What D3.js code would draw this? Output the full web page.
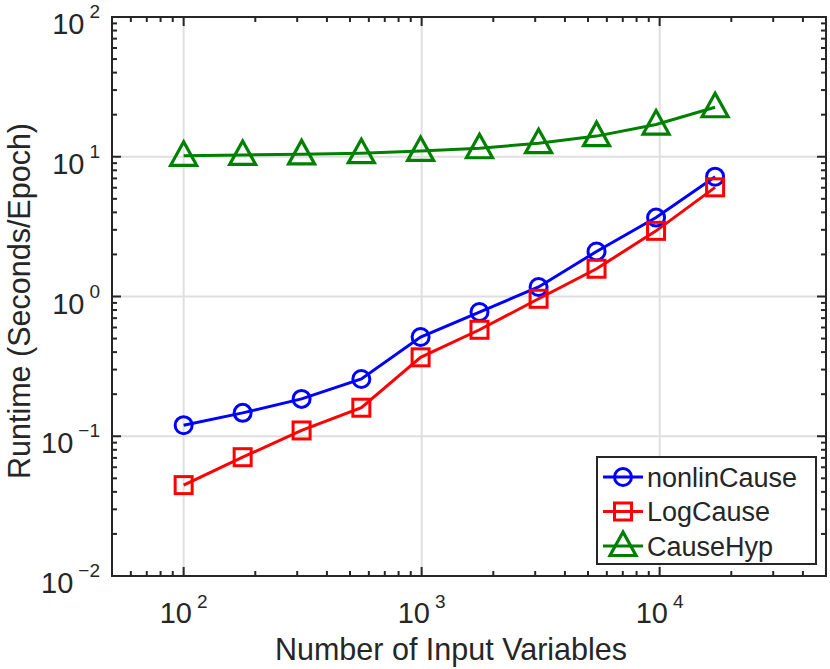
<!DOCTYPE html>
<html>
<head>
<meta charset="utf-8">
<script src="https://cdn.jsdelivr.net/npm/d3@7"></script>
<style>
  body { margin: 0; background: #fff; }
  text { font-family: "Liberation Sans", Arial, Helvetica, sans-serif; fill: #262626; }
</style>
</head>
<body>
<div id="chart"></div>
<script>
/* Number of input variables (x) and runtime per epoch for each method. */
const inputVars = [100, 177, 313, 558, 990, 1750, 3100, 5430, 9660, 17100];
const nonlinCause = [0.120, 0.147, 0.185, 0.257, 0.513, 0.774, 1.17, 2.10, 3.67, 7.20];
const logCause = [0.0447, 0.0708, 0.110, 0.160, 0.367, 0.578, 0.963, 1.58, 2.95, 6.04];
const causeHyp = [10.15, 10.3, 10.4, 10.6, 11.0, 11.5, 12.5, 14.05, 17.0, 22.6];

const seriesNames = ["nonlinCause", "LogCause", "CauseHyp"];
const seriesColors = ["#0000ff", "#ff0000", "#008000"];
const seriesMarkers = ["circle", "square", "triangle"];

const xTicks = [100, 1000, 10000];
const xTickExp = ["2", "3", "4"];
const yTicks = [0.01, 0.1, 1, 10, 100];
const yTickExp = ["\u22122", "\u22121", "0", "1", "2"];

/* Global chart parameters. */
const chartParams = {
  width: 830,
  height: 669,
  left: 112,
  right: 826,
  top: 17,
  bottom: 576
};
const axisColor = "#262626";

const x = d3.scaleLog().domain([50, 50000]).range([chartParams.left, chartParams.right]);
const y = d3.scaleLog().domain([0.01, 100]).range([chartParams.bottom, chartParams.top]);

const svg = d3.select("#chart")
  .append("svg")
  .attr("width", chartParams.width)
  .attr("height", chartParams.height);

/* Minor ticks for the log axes. */
function minorTicks(scale) {
  const [a, b] = scale.domain();
  const out = [];
  for (let e = Math.floor(Math.log10(a)); e <= Math.ceil(Math.log10(b)); e++) {
    for (let m = 2; m <= 9; m++) {
      const v = m * Math.pow(10, e);
      if (v > a && v < b) out.push(v);
    }
  }
  return out;
}

/* Grid lines at major ticks. */
const grid = svg.append("g");
grid.selectAll("line.gx")
  .data(xTicks)
  .enter()
  .append("line")
  .attr("x1", d => x(d)).attr("x2", d => x(d))
  .attr("y1", chartParams.top).attr("y2", chartParams.bottom)
  .attr("stroke", "#dfdfdf").attr("stroke-width", 2);
grid.selectAll("line.gy")
  .data(yTicks.slice(1, -1))
  .enter()
  .append("line")
  .attr("y1", d => y(d)).attr("y2", d => y(d))
  .attr("x1", chartParams.left).attr("x2", chartParams.right)
  .attr("stroke", "#dfdfdf").attr("stroke-width", 2);

/* Axes on all four sides, ticks pointing inward. */
const axes = svg.append("g").attr("stroke", axisColor).attr("stroke-width", 2);
[["bottom", chartParams.bottom, -1], ["top", chartParams.top, 1]].forEach(([side, pos, dir]) => {
  axes.selectAll("line.mx" + side)
    .data(xTicks.map(d => [d, 9]).concat(minorTicks(x).map(d => [d, 5])))
    .enter()
    .append("line")
    .attr("x1", d => x(d[0])).attr("x2", d => x(d[0]))
    .attr("y1", pos).attr("y2", d => pos + dir * d[1]);
});
[["left", chartParams.left, 1], ["right", chartParams.right, -1]].forEach(([side, pos, dir]) => {
  axes.selectAll("line.my" + side)
    .data(yTicks.map(d => [d, 9]).concat(minorTicks(y).map(d => [d, 5])))
    .enter()
    .append("line")
    .attr("y1", d => y(d[0])).attr("y2", d => y(d[0]))
    .attr("x1", pos).attr("x2", d => pos + dir * d[1]);
});
axes.append("rect")
  .attr("x", chartParams.left).attr("y", chartParams.top)
  .attr("width", chartParams.right - chartParams.left)
  .attr("height", chartParams.bottom - chartParams.top)
  .attr("fill", "none");

/* Tick labels with superscript exponents. */
const xLab = svg.append("g").selectAll("text")
  .data(xTicks)
  .enter()
  .append("text")
  .attr("x", d => x(d))
  .attr("y", 623)
  .attr("text-anchor", "middle")
  .attr("font-size", 29);
xLab.append("tspan").text("10");
xLab.append("tspan")
  .attr("dx", 5).attr("dy", -15)
  .attr("font-size", 19)
  .text((d, i) => xTickExp[i]);

const yLab = svg.append("g").selectAll("text")
  .data(yTicks)
  .enter()
  .append("text")
  .attr("x", 100)
  .attr("y", d => y(d) + 17)
  .attr("text-anchor", "end")
  .attr("font-size", 29);
yLab.append("tspan").text("10");
yLab.append("tspan")
  .attr("dx", 5).attr("dy", -16)
  .attr("font-size", 19)
  .text((d, i) => yTickExp[i]);

/* Axis titles. */
svg.append("text")
  .attr("x", (chartParams.left + chartParams.right) / 2 - 18)
  .attr("y", 660)
  .attr("text-anchor", "middle")
  .attr("font-size", 30.5)
  .text("Number of Input Variables");
svg.append("text")
  .attr("transform", "translate(30,301) rotate(-90)")
  .attr("text-anchor", "middle")
  .attr("font-size", 30.5)
  .text("Runtime (Seconds/Epoch)");

/* Draw a marker of the given kind at (cx, cy). */
function drawMarker(g, kind, cx, cy, color) {
  if (kind === "circle") {
    g.append("circle").attr("cx", cx).attr("cy", cy).attr("r", 8.5)
      .attr("fill", "none").attr("stroke", color).attr("stroke-width", 3);
  } else if (kind === "square") {
    g.append("rect").attr("x", cx - 8.5).attr("y", cy - 8.5).attr("width", 17).attr("height", 17)
      .attr("fill", "none").attr("stroke", color).attr("stroke-width", 3);
  } else {
    g.append("path")
      .attr("d", `M${cx},${cy - 14}L${cx + 13},${cy + 9.5}L${cx - 13},${cy + 9.5}Z`)
      .attr("fill", "none").attr("stroke", color).attr("stroke-width", 3.2)
      .attr("stroke-linejoin", "miter");
  }
}

/* Lines and markers for each series. */
const seriesData = [nonlinCause, logCause, causeHyp];
const line = d3.line().x(d => x(d[0])).y(d => y(d[1]));
const plot = svg.append("g");
seriesData.forEach((vals, s) => {
  const pts = inputVars.map((v, i) => [v, vals[i]]);
  plot.append("path")
    .attr("d", line(pts))
    .attr("fill", "none")
    .attr("stroke", seriesColors[s])
    .attr("stroke-width", 3);
  const mg = plot.append("g");
  pts.forEach(p => drawMarker(mg, seriesMarkers[s], x(p[0]), y(p[1]), seriesColors[s]));
});

/* Legend in the lower right. */
const legend = svg.append("g").attr("transform", "translate(597,457)");
legend.append("rect")
  .attr("width", 219).attr("height", 107)
  .attr("fill", "#fff").attr("stroke", axisColor).attr("stroke-width", 2);
seriesNames.forEach((name, s) => {
  const ry = 20 + s * 34.5;
  legend.append("line")
    .attr("x1", 6).attr("x2", 46).attr("y1", ry).attr("y2", ry)
    .attr("stroke", seriesColors[s]).attr("stroke-width", 3);
  drawMarker(legend, seriesMarkers[s], 26, ry, seriesColors[s]);
  legend.append("text")
    .attr("x", 50).attr("y", ry + 9.5)
    .attr("font-size", 27)
    .text(name);
});
</script>
</body>
</html>
